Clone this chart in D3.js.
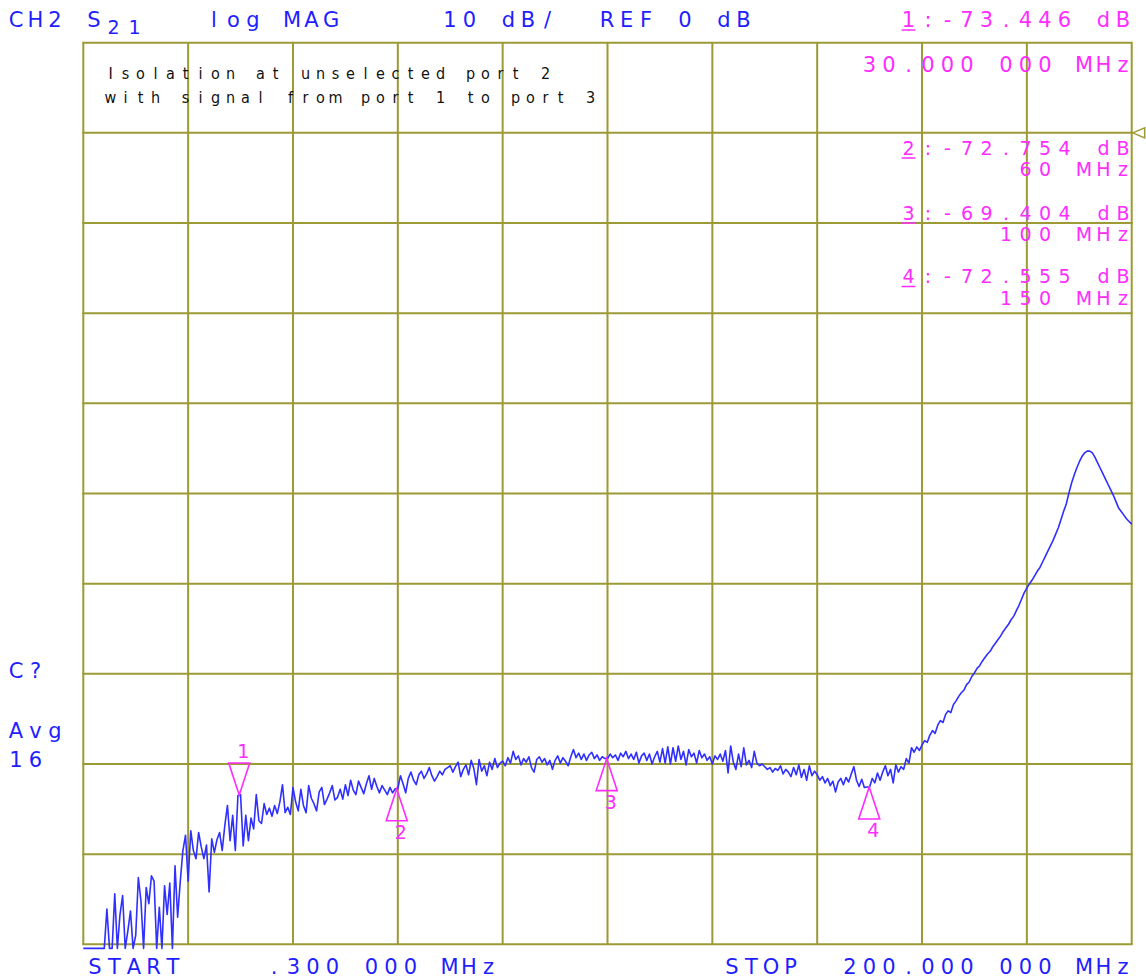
<!DOCTYPE html>
<html><head><meta charset="utf-8">
<script src="https://cdn.jsdelivr.net/npm/d3@7"></script>
<style>body{margin:0;background:#fff}svg{display:block}</style>
</head><body>
<svg id="c" width="1146" height="980"></svg>
<script>
// ---- sweep / scale settings ----
const startMHz = 0.3, stopMHz = 200;
const refDb = 0, dbPerDiv = 10, topDivs = 1, bottomDivs = 9;
// ---- trace (dB), one value per sweep point (401 points) ----
const traceDb = [
-95,-95,-95,-95,-95,-95,-95,-95,-95,-86.1,-95,-91,-84.4,-95,-86.7,-84.6,-92,-88.5,-86.3,-95,
-89,-82.6,-85.2,-92,-83.7,-85.5,-82.4,-83.0,-95,-85.9,-93,-83.5,-86.7,-83.2,-95,-81.3,-87,-83,-79.6,-77.9,
-83,-77.4,-79.6,-80.5,-77.6,-79.2,-80.5,-79.0,-84.2,-78.3,-79.8,-78.4,-77.6,-79.6,-76.8,-74.6,-78.5,-75.7,-79.6,-73.5,
-73.4,-79.1,-75.7,-78.5,-76.0,-77.2,-73.4,-76.3,-76.6,-74.4,-75.6,-74.9,-75.8,-74.6,-75.5,-74.2,-72.3,-75.4,-74.8,-75.6,
-72.6,-74.2,-75.2,-72.8,-74.6,-75.4,-72.4,-73.8,-74.4,-75.2,-73.1,-72.6,-74.5,-73.9,-73.2,-72.4,-74.0,-73.7,-72.8,-73.9,
-72.3,-73.5,-71.8,-72.9,-73.4,-71.9,-72.6,-73.3,-72.2,-71.3,-72.8,-71.6,-72.5,-73.2,-72.4,-72.9,-73.4,-72.6,-73.2,-72.75,
-72.75,-71.3,-72.2,-73.2,-71.6,-70.9,-71.8,-72.3,-71.2,-70.8,-71.6,-71.1,-70.4,-71.3,-71.9,-71.4,-70.8,-71.2,-70.6,-70.4,
-70.2,-70.9,-70.3,-69.8,-71.4,-70.6,-70.1,-71.2,-69.6,-70.5,-72.3,-69.5,-70.8,-70.2,-71.3,-69.8,-70.6,-69.4,-70.4,-69.9,
-69.7,-70.2,-69.3,-69.9,-68.6,-69.5,-69.1,-70.1,-69.4,-69.8,-69.2,-70.4,-70.9,-69.5,-69.2,-69.8,-69.4,-70.1,-69.6,-70.6,
-69.6,-69.1,-69.9,-69.3,-69.7,-70.2,-69.2,-68.4,-69.3,-68.8,-69.5,-68.9,-69.6,-69.0,-68.7,-69.4,-69.0,-69.6,-69.2,-69.4,
-69.4,-68.9,-69.3,-69.0,-69.6,-68.8,-69.2,-68.6,-69.4,-68.9,-69.5,-68.7,-69.9,-69.1,-68.8,-69.6,-68.9,-70.0,-69.2,-68.6,
-69.8,-68.3,-69.9,-68.1,-70.0,-68.2,-69.7,-68.0,-69.5,-68.6,-70.1,-68.4,-69.2,-68.8,-69.9,-68.5,-69.3,-68.9,-69.6,-69.2,
-70.0,-69.1,-69.5,-68.9,-69.7,-68.5,-71.0,-68.0,-69.8,-70.6,-68.9,-70.3,-68.2,-70.1,-69.6,-70.4,-68.6,-69.9,-70.2,-70.0,
-70.3,-70.6,-70.4,-70.9,-70.5,-70.7,-70.2,-71.1,-70.6,-70.9,-71.4,-70.4,-71.2,-70.1,-71.5,-70.6,-71.8,-70.2,-71.3,-70.8,
-71.2,-71.8,-71.4,-72.1,-71.6,-72.4,-71.9,-73.1,-72.0,-71.6,-72.3,-71.5,-72.0,-71.1,-70.3,-71.8,-72.5,-71.7,-72.6,-72.55,
-72.56,-71.6,-72.1,-71.0,-71.8,-70.9,-70.2,-71.3,-70.6,-72.1,-70.1,-70.9,-70.3,-70.6,-69.4,-69.9,-68.2,-68.7,-68.1,-68.5,
-67.9,-67.4,-67.6,-66.8,-66.3,-66.6,-65.7,-65.2,-65.4,-64.5,-64.1,-64.3,-63.4,-63.0,-62.5,-62.1,-61.8,-61.2,-60.9,-60.3,
-59.9,-59.4,-59.1,-58.6,-58.2,-57.8,-57.5,-57.0,-56.6,-56.2,-55.8,-55.3,-54.9,-54.5,-54.0,-53.6,-53.0,-52.4,-51.7,-51.0,
-50.5,-50.0,-49.6,-49.1,-48.6,-48.2,-47.6,-47.0,-46.4,-45.8,-45.2,-44.5,-43.8,-42.9,-42.0,-41.2,-40.0,-38.9,-38.0,-37.2,
-36.5,-35.9,-35.5,-35.3,-35.3,-35.5,-36.0,-36.6,-37.2,-37.8,-38.4,-39.0,-39.6,-40.2,-40.9,-41.6,-42.0,-42.4,-42.8,-43.1,
-43.4
];
// ---- markers ----
const markerIds = ["1", "2", "3", "4"];
const markerFreqs = [30, 60, 100, 150];
const markerDbs = [-73.446, -72.754, -69.404, -72.555];
const markerFreqText = ["30.000 000 MHz", "60 MHz", "100 MHz", "150 MHz"];
// ---- labels ----
const headerLabels = ["CH2", "S", "21", "log MAG", "10 dB/", "REF 0 dB"];
const noteLines = ["Isolation at unselected port 2", "with signal from port 1 to port 3"];
const sideLabels = ["C?", "Avg", "16"];
const bottomLabels = ["START", ".300 000 MHz", "STOP", "200.000 000 MHz"];

// ---- drawing ----
const L = 83.3, R = 1131.7, T = 42.7, B = 944.3;
const GRID = "#9c9a34", BLUE = "#1e1eff", MAG = "#ff2bff", TRACE = "#2f2fff";
const svg = d3.select("#c");
const x = d3.scaleLinear().domain([startMHz, stopMHz]).range([L, R]);
const yTop = refDb + topDivs * dbPerDiv, yBot = refDb - bottomDivs * dbPerDiv;
const y = d3.scaleLinear().domain([yTop, yBot]).range([T, B]);
const nDiv = 10;

// grid
const gx = d3.range(nDiv + 1).map(k => startMHz + k * (stopMHz - startMHz) / nDiv);
const gy = d3.range(nDiv + 1).map(k => yTop - k * dbPerDiv);
const g = svg.append("g");
g.selectAll("line.v").data(gx).join("line").attr("class","v")
  .attr("x1", d => x(d)).attr("x2", d => x(d)).attr("y1", T).attr("y2", B)
  .attr("stroke", GRID).attr("stroke-width", 2);
g.selectAll("line.h").data(gy).join("line").attr("class","h")
  .attr("x1", L - 1).attr("x2", R + 1).attr("y1", d => y(d)).attr("y2", d => y(d))
  .attr("stroke", GRID).attr("stroke-width", 2);
// reference position arrow
svg.append("path")
  .attr("d", `M${R+1},${y(refDb)} L${R+13},${y(refDb)-5} L${R+13},${y(refDb)+5} Z`)
  .attr("fill", "none").attr("stroke", GRID).attr("stroke-width", 1.5);

// trace
const nPts = traceDb.length;
const fx = d3.scaleLinear().domain([0, nPts - 1]).range([startMHz, stopMHz]);
const clampDb = v => Math.max(v, yBot - 0.45);
const line = d3.line().x((d, i) => x(fx(i))).y(d => y(clampDb(d)));
svg.append("path").datum(traceDb).attr("d", line)
  .attr("fill", "none").attr("stroke", TRACE).attr("stroke-width", 1.6)
  .attr("stroke-linejoin", "round");

// character-cell text helper
function cells(str, startX, base, pitch, fs, color, opts = {}) {
  const off = opts.off ?? pitch * 0.36;
  const chars = Array.from(str);
  const xs = chars.map((c, k) => (startX + off + k * pitch).toFixed(2));
  svg.append("text")
    .attr("x", xs.join(" ")).attr("y", base)
    .attr("text-anchor", "middle")
    .attr("font-family", opts.family || "DejaVu Sans, sans-serif")
    .attr("font-weight", opts.weight || 400)
    .attr("font-size", fs).attr("fill", color)
    .text(str);
}
const P = 19.5, FS = 21, FSM = 19;
const endStart = (endX, s) => endX - (s.length - 1) * P - 14;

// header
cells(headerLabels[0], 9, 26.7, P, FS, BLUE);
cells(headerLabels[1], 87, 26.7, P, FS, BLUE);
cells(headerLabels[2], 106, 33.5, 21, 19, BLUE);
cells(headerLabels[3], 207, 26.7, P, FS, BLUE);
cells(headerLabels[4], 443, 26.7, P, FS, BLUE);
cells(headerLabels[5], 600, 26.7, P, FS, BLUE);

// notes
const noteFont = {family: "Liberation Sans Narrow, DejaVu Sans Condensed, sans-serif", weight: 400, off: 4.5};
cells(noteLines[0], 106, 79, 15, 16, "#111", noteFont);
cells(noteLines[1], 106, 103, 15, 16, "#111", noteFont);

// side labels
cells(sideLabels[0], 9, 678, P, FS, BLUE);
cells(sideLabels[1], 9, 738, P, FS, BLUE);
cells(sideLabels[2], 9, 767, P, FS, BLUE);

// bottom labels
cells(bottomLabels[0], 88, 974, P, FS, BLUE);
cells(bottomLabels[1], 267, 974, P, FS, BLUE);
cells(bottomLabels[2], 725, 974, P, FS, BLUE);
cells(bottomLabels[3], 843, 974, P, FS, BLUE);

// marker readouts
const valBase = [26.5, 154.5, 219.5, 283];
const freqBase = [71.7, 176, 241, 304.5];
markerIds.forEach((id, k) => {
  const s = `${id}:${markerDbs[k].toFixed(3)} dB`;
  const sx = endStart(1130, s);
  cells(s, sx, valBase[k], P, k === 0 ? FS : FSM, MAG);
  svg.append("line").attr("x1", sx).attr("x2", sx + 14)
    .attr("y1", valBase[k] + 3.5).attr("y2", valBase[k] + 3.5)
    .attr("stroke", MAG).attr("stroke-width", 1.5);
  const f = markerFreqText[k];
  cells(f, endStart(1130, f), freqBase[k], P, k === 0 ? FS : FSM, MAG);
});

// marker symbols on trace
markerIds.forEach((id, k) => {
  const mx = x(markerFreqs[k]), my = y(markerDbs[k]);
  const active = k === 0;
  const s = active ? -1 : 1;
  svg.append("path")
    .attr("d", `M${mx},${my} L${mx-10.5},${my + s*32} L${mx+10.5},${my + s*32} Z`)
    .attr("fill", "none").attr("stroke", MAG).attr("stroke-width", 1.6);
  svg.append("text").attr("x", mx + 4).attr("y", active ? my - 37 : my + 50)
    .attr("text-anchor", "middle").attr("font-family", "DejaVu Sans, sans-serif")
    .attr("font-size", 19).attr("fill", MAG).text(id);
});
</script>
</body></html>
